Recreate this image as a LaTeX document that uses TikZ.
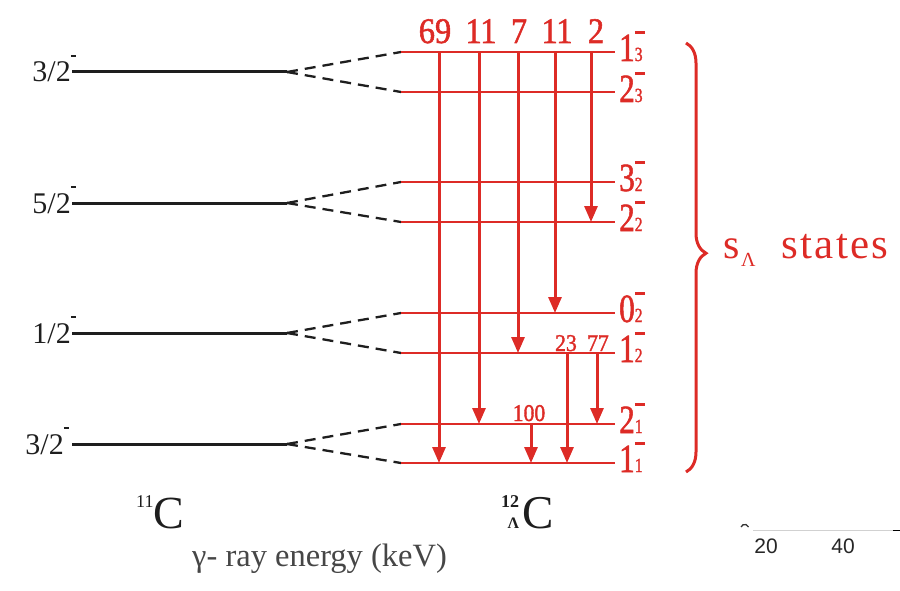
\documentclass[tikz,border=0pt]{standalone}
\usepackage{fontspec}
\setmainfont{Liberation Serif}
\newfontfamily\redfont[FakeStretch=0.78,FakeBold=1.3]{Liberation Serif}
\newfontfamily\numfont[FakeStretch=0.9,FakeBold=1.5]{Liberation Serif}
\newfontfamily\statesfont[LetterSpace=5.5]{Liberation Serif}
\newfontfamily\axisfont{Liberation Sans}
\usetikzlibrary{arrows.meta,decorations.pathreplacing}
\definecolor{lvred}{RGB}{221,43,38}
\definecolor{lvblack}{RGB}{30,30,30}
\definecolor{lvgray}{RGB}{70,70,70}
\newcommand{\rlvl}[2]{{\redfont\fontsize{40}{40}\selectfont #1}\rlap{\raisebox{27pt}{\rule{10pt}{3pt}}}{\redfont\fontsize{20}{20}\selectfont #2}}
\newcommand{\blvl}[1]{{\fontsize{30}{30}\selectfont #1}\raisebox{25pt}{\rule{5pt}{1.8pt}}}
\begin{document}
\begin{tikzpicture}[x=1pt,y=-1pt,
  redlvl/.style={draw=lvred,line width=2.9pt},
  blklvl/.style={draw=lvblack,line width=3pt},
  dashlink/.style={draw=lvblack,line width=2.3pt,dash pattern=on 11pt off 7pt},
  trans/.style={draw=lvred,line width=3pt,-{Triangle[length=16pt,width=13pt]}},
  rlabel/.style={anchor=base west,inner sep=0pt,text=lvred},
  blabel/.style={anchor=base east,inner sep=0pt,text=lvblack},
  intens/.style={anchor=base,inner sep=0pt,text=lvred,font=\numfont\fontsize{36}{36}\selectfont},
  sintens/.style={anchor=base,inner sep=0pt,text=lvred,font=\numfont\fontsize{24}{24}\selectfont}]
\useasboundingbox (0,0) rectangle (900,591);

% black 11C levels
\foreach \n/\y in {k1/72,k2/203,k3/333,k4/444}{
  \coordinate (\n l) at (72,\y);
  \coordinate (\n r) at (287,\y);
}
% red levels
\foreach \n/\y in {r13/52,r23/92,r32/182,r22/222,r02/313,r12/353,r21/424,r11/463}{
  \coordinate (\n l) at (401,\y);
  \coordinate (\n r) at (615,\y);
}
\draw[blklvl] (k1l) -- (k1r);
\draw[blklvl] (k2l) -- (k2r);
\draw[blklvl] (k3l) -- (k3r);
\draw[blklvl] (k4l) -- (k4r);
\draw[dashlink] (k1r) -- (r13l);
\draw[dashlink] (k1r) -- (r23l);
\draw[dashlink] (k2r) -- (r32l);
\draw[dashlink] (k2r) -- (r22l);
\draw[dashlink] (k3r) -- (r02l);
\draw[dashlink] (k3r) -- (r12l);
\draw[dashlink] (k4r) -- (r21l);
\draw[dashlink] (k4r) -- (r11l);
\foreach \n in {r13,r23,r32,r22,r02,r12,r21,r11}{
  \draw[redlvl] (\n l) -- (\n r);
}

% transition end points
\coordinate (t69) at (439,52);  \coordinate (b69) at (439,463);
\coordinate (t11a) at (479,52); \coordinate (b11a) at (479,424);
\coordinate (t7) at (518,52);   \coordinate (b7) at (518,353);
\coordinate (t11b) at (555,52); \coordinate (b11b) at (555,313);
\coordinate (t2) at (591,52);   \coordinate (b2) at (591,222);
\coordinate (t23) at (567,353); \coordinate (b23) at (567,463);
\coordinate (t77) at (597,353); \coordinate (b77) at (597,424);
\coordinate (t100) at (531,424);\coordinate (b100) at (531,463);
\draw[trans] (t69) -- (b69);
\draw[trans] (t11a) -- (b11a);
\draw[trans] (t7) -- (b7);
\draw[trans] (t11b) -- (b11b);
\draw[trans] (t2) -- (b2);
\draw[trans] (t23) -- (b23);
\draw[trans] (t77) -- (b77);
\draw[trans] (t100) -- (b100);

% intensities
\node[intens] (i69) at (435,43) {69};
\node[intens] (i11a) at (481,43) {1\kern-1.5pt1};
\node[intens] (i7) at (519,43) {7};
\node[intens] (i11b) at (557,43) {1\kern-1.5pt1};
\node[intens] (i2) at (596,43) {2};
\node[sintens] (i23) at (566,351) {23};
\node[sintens] (i77) at (598,351) {77};
\node[sintens] (i100) at (529,421) {100};

% red level labels
\node[rlabel] (l13) at (619,61) {\rlvl{1}{3}};
\node[rlabel] (l23) at (619,102) {\rlvl{2}{3}};
\node[rlabel] (l32) at (619,191) {\rlvl{3}{2}};
\node[rlabel] (l22) at (619,231) {\rlvl{2}{2}};
\node[rlabel] (l02) at (619,322) {\rlvl{0}{2}};
\node[rlabel] (l12) at (619,362) {\rlvl{1}{2}};
\node[rlabel] (l21) at (619,433) {\rlvl{2}{1}};
\node[rlabel] (l11) at (619,472) {\rlvl{1}{1}};

% black level labels
\node[blabel] (j1) at (76,82) {\blvl{3/2}};
\node[blabel] (j2) at (76,213) {\blvl{5/2}};
\node[blabel] (j3) at (76,343) {\blvl{1/2}};
\node[blabel] (j4) at (69,454) {\blvl{3/2}};

% brace and s_Lambda states
\coordinate (bt) at (686,43);
\coordinate (bb) at (686,472);
\draw[draw=lvred,line width=3pt,decorate,decoration={brace,amplitude=20pt,aspect=0.49}] (bt) -- (bb);
\node[anchor=base west,inner sep=0pt,text=lvred] (slam) at (723,258)
  {\fontsize{42}{42}\selectfont s\kern1.5pt\raisebox{-8pt}{\fontsize{20}{20}\selectfont Λ}};
\node[anchor=base west,inner sep=0pt,text=lvred] (stt) at (781,258)
  {\statesfont\fontsize{43}{43}\selectfont states};

% nucleus labels
\node[anchor=base west,inner sep=0pt,text=lvblack] (n11) at (136,528)
  {\raisebox{21pt}{\fontsize{18}{18}\selectfont 11}{\fontsize{46}{46}\selectfont C}};
\node[anchor=base west,inner sep=0pt,text=lvblack] (n12) at (502,528)
  {\makebox[17pt][r]{\raisebox{21pt}{\fontsize{18}{18}\selectfont\bfseries 12}}\kern-17pt\makebox[17pt][r]{\fontsize{16}{16}\selectfont\bfseries Λ}\kern3pt{\fontsize{47}{47}\selectfont C}};
\node[anchor=base west,inner sep=0pt,text=lvgray] (gam) at (192,566)
  {\fontsize{32.5}{33}\selectfont γ- ray energy (keV)};

% axis fragment
\coordinate (ax1) at (753,530);
\coordinate (ax2) at (893,530);
\coordinate (ax3) at (900,530);
\draw[draw=black!18,line width=0.8pt] (ax1) -- (ax2);
\draw[draw=black,line width=1pt] (ax2) -- (ax3);
\draw[draw=black!80,line width=1.3pt] (741,527) arc[start angle=200,end angle=340,radius=4];
\node[anchor=base,inner sep=0pt,text=black!85] (ax20) at (766,553) {\axisfont\fontsize{21}{21}\selectfont 20};
\node[anchor=base,inner sep=0pt,text=black!85] (ax40) at (843,553) {\axisfont\fontsize{21}{21}\selectfont 40};
\end{tikzpicture}
\end{document}
